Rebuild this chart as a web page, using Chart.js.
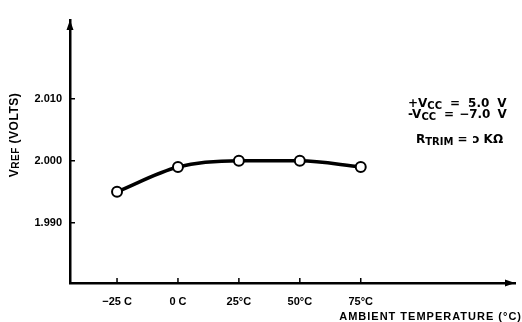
<!DOCTYPE html>
<html>
<head>
<meta charset="utf-8">
<script src="https://cdn.jsdelivr.net/npm/chart.js@4.4.1/dist/chart.umd.min.js"></script>
<style>
  html, body { margin: 0; background: #fff; }
  #wrap { width: 522px; height: 322px; }
</style>
</head>
<body>
<div id="wrap"><canvas id="vrefChart"></canvas></div>
<script>
// data
const tempC = [-25, 0, 25, 50, 75];
const vref = [1.995, 1.999, 2.000, 2.000, 1.999];
const xTickValues = [-25, 0, 25, 50, 75];
const xTickLabels = ['\u221225 C', '0 C', '25\u00b0C', '50\u00b0C', '75\u00b0C'];
const yTickValues = [1.990, 2.000, 2.010];
const yTickLabels = ['1.990', '2.000', '2.010'];

const FONT = "'Liberation Sans', Arial, sans-serif";
const NOTE_FONT = "'DejaVu Sans', sans-serif";
Chart.defaults.font.family = FONT;
Chart.defaults.font.size = 11;
Chart.defaults.font.weight = 'bold';
Chart.defaults.color = '#000';

// draw a run of text pieces, some of them lowered as subscripts
function drawParts(ctx, family, x, y, parts) {
    let cx = x;
    parts.forEach(([txt, size, dy, gap]) => {
        cx += gap || 0;
        ctx.font = 'bold ' + size + 'px ' + family;
        ctx.fillText(txt, cx, y + dy);
        cx += ctx.measureText(txt).width;
    });
    return cx - x;
}
function partsWidth(ctx, family, parts) {
    let w = 0;
    parts.forEach(([txt, size, dy, gap]) => {
        ctx.font = 'bold ' + size + 'px ' + family;
        w += (gap || 0) + ctx.measureText(txt).width;
    });
    return w;
}

const decorations = {
    id: 'decorations',
    afterDraw(chart) {
        const ctx = chart.ctx;
        const area = chart.chartArea;
        const xs = chart.scales.x, ys = chart.scales.y;
        ctx.save();
        ctx.strokeStyle = '#000';
        ctx.fillStyle = '#000';
        ctx.lineWidth = 1.5;

        // inward tick marks
        ctx.beginPath();
        xs.ticks.forEach(t => {
            const px = xs.getPixelForValue(t.value);
            ctx.moveTo(px, area.bottom);
            ctx.lineTo(px, area.bottom - 5);
        });
        ys.ticks.forEach(t => {
            const py = ys.getPixelForValue(t.value);
            ctx.moveTo(area.left, py);
            ctx.lineTo(area.left + 5, py);
        });
        ctx.stroke();

        // arrow heads
        ctx.beginPath();
        ctx.moveTo(area.right, area.bottom);
        ctx.lineTo(area.right - 10, area.bottom - 3.5);
        ctx.lineTo(area.right - 10, area.bottom + 3.5);
        ctx.closePath();
        ctx.moveTo(area.left, area.top);
        ctx.lineTo(area.left - 3.5, area.top + 10);
        ctx.lineTo(area.left + 3.5, area.top + 10);
        ctx.closePath();
        ctx.fill();

        ctx.textBaseline = 'alphabetic';
        ctx.textAlign = 'left';

        // y title, rotated
        ctx.letterSpacing = '0.5px';
        const yTitle = [['V', 12, 0, 0], ['REF', 10, 1, 0], [' (VOLTS)', 12, 0, 0]];
        ctx.save();
        ctx.translate(18, 135);
        ctx.rotate(-Math.PI / 2);
        drawParts(ctx, FONT, -partsWidth(ctx, FONT, yTitle) / 2, 0, yTitle);
        ctx.restore();

        // x title
        ctx.letterSpacing = '1px';
        ctx.font = 'bold 11px ' + FONT;
        ctx.textAlign = 'right';
        ctx.fillText('AMBIENT TEMPERATURE (\u00b0C)', 522, 320);
        ctx.textAlign = 'left';
        ctx.letterSpacing = '0px';

        // operating conditions
        drawParts(ctx, NOTE_FONT, 408, 107, [['+V', 12, 0, 0], ['CC', 10, 2, 0], ['=', 12, 0, 8], ['5.0', 12, 0, 8], ['V', 12, 0, 8]]);
        drawParts(ctx, NOTE_FONT, 408, 118, [['-V', 12, 0, 0], ['CC', 10, 2, 0], ['=', 12, 0, 8], ['\u22127.0', 12, 0, 5], ['V', 12, 0, 7]]);
        drawParts(ctx, NOTE_FONT, 416, 143, [['R', 12, 0, 0], ['TRIM', 10, 2, 0], ['=', 12, 0, 4], ['\u0254', 12, 0, 5], ['K\u03a9', 12, 0, 4]]);
        ctx.restore();
    }
};

const ctxVref = document.getElementById('vrefChart').getContext('2d');
new Chart(ctxVref, {
    type: 'line',
    data: {
        datasets: [{
            data: tempC.map((t, i) => ({ x: t, y: vref[i] })),
            borderColor: '#000',
            borderWidth: 3.5,
            cubicInterpolationMode: 'monotone',
            pointRadius: 5,
            pointBorderWidth: 2,
            pointBackgroundColor: '#fff',
            pointBorderColor: '#000',
            fill: false
        }]
    },
    options: {
        responsive: true,
        maintainAspectRatio: false,
        animation: false,
        layout: { padding: { top: 20, right: 4, left: 0, bottom: 0 } },
        plugins: {
            legend: { display: false },
            tooltip: { enabled: false }
        },
        scales: {
            x: {
                type: 'linear',
                min: -44.3,
                max: 138.3,
                afterBuildTicks: s => { s.ticks = xTickValues.map(v => ({ value: v })); },
                afterFit: s => { s.height = 39; },
                ticks: {
                    padding: 12,
                    maxRotation: 0,
                    callback: v => xTickLabels[xTickValues.indexOf(v)]
                },
                grid: { display: false, drawTicks: false },
                border: { color: '#000', width: 2.5 }
            },
            y: {
                type: 'linear',
                min: 1.9803,
                max: 2.0227,
                afterBuildTicks: s => { s.ticks = yTickValues.map(v => ({ value: v })); },
                afterFit: s => { s.width = 70; },
                ticks: {
                    padding: 8,
                    callback: v => yTickLabels[yTickValues.indexOf(v)]
                },
                grid: { display: false, drawTicks: false },
                border: { color: '#000', width: 2.5 }
            }
        }
    },
    plugins: [decorations]
});
</script>
</body>
</html>
